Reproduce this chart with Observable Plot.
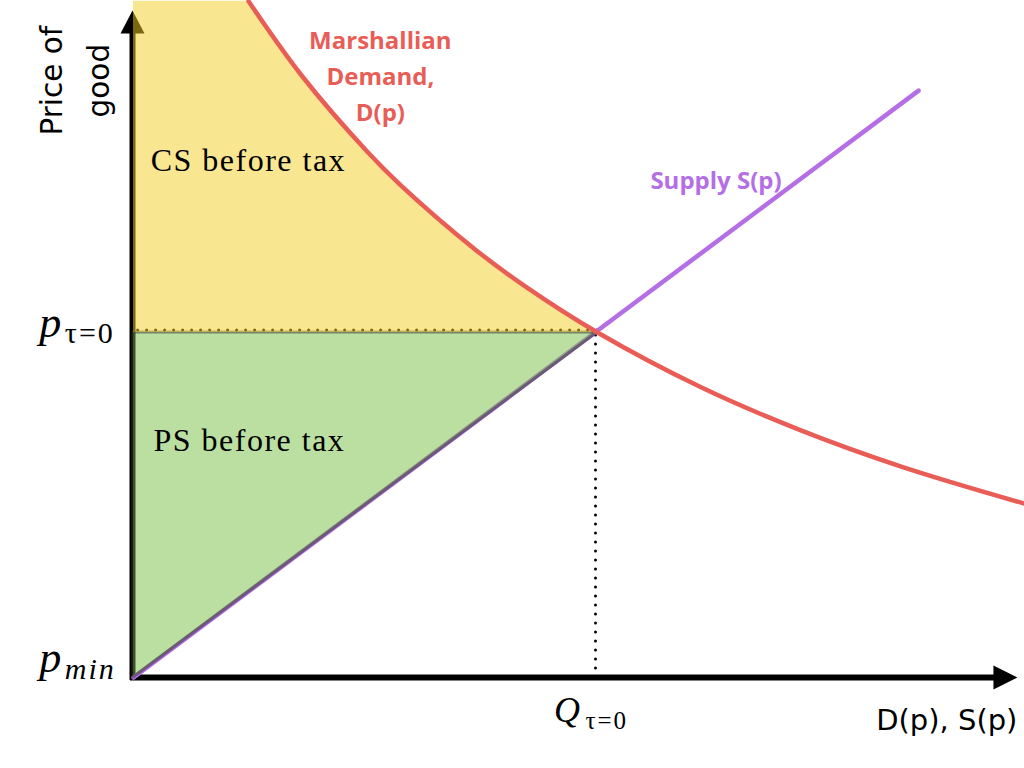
<!DOCTYPE html>
<html>
<head>
<meta charset="utf-8">
<script src="https://cdn.jsdelivr.net/npm/d3@7"></script>
<script src="https://cdn.jsdelivr.net/npm/@observablehq/plot@0.6"></script>
<style>
  html, body { margin: 0; padding: 0; background: #fff; }
  #chart svg { display: block; }
</style>
</head>
<body>
<div id="chart"></div>
<script>
// ---- data ----
const demandQ = [2.48, 3.64, 5.04, 5.75, 7.37, 8.45, 10, 12.22, 14.37, 16.53, 19.2];
const demandP = [19.60, 17.42, 15.24, 14.28, 12.40, 11.33, 10, 8.42, 7.17, 6.12, 5.04];
const supplyQ = [0, 16.92];
const supplyP = [0, 17.01];
const eqQ = 10;        // Q_{tau=0}
const eqP = 10;        // p_{tau=0}
const pMin = 0;        // p_min
const axisXMax = 19.05;
const axisYMax = 19.33;

const demand = demandQ.map((q, i) => ({q, p: demandP[i]}));
const supply = supplyQ.map((q, i) => ({q, p: supplyP[i]}));
const csRegion = demand.filter(d => d.p >= eqP);
const psRegion = [{p: pMin, q: 0}, {p: eqP, q: eqQ}];

// labels
const yTitle = [{x: -1.36, y: 17.30, text: "Price of\ngood"}];
const demandLabel = [{x: 5.32, y: 17.50, text: "Marshallian\nDemand,\nD(p)"}];
const supplyLabel = [{x: 11.14, y: 14.38, text: "Supply S(p)"}];
const areaLabels = [{x: 0.37, y: 14.99, text: "CS before tax"}, {x: 0.43, y: 6.87, text: "PS before tax"}];
const xTitle = [{x: 19.05, y: -1.246, text: "D(p), S(p)"}];
const mathP = [
  {x: -2.03, y: 9.86, text: "p"},
  {x: -2.03, y: 0.15, text: "p"}
];
const mathPSub = [
  {x: -1.48, y: 9.70, text: "τ=0"},
  {x: -1.48, y: -0.03, text: "min"}
];
const mathQ = [{x: 9.06, y: -1.30, text: "Q"}];
const mathQSub = [{x: 9.74, y: -1.48, text: "τ=0"}];

const red = "#e95d57";
const purple = "#b46ee6";

const upArrow = {draw(c) { c.moveTo(0, 0); c.lineTo(12, 23); c.lineTo(-12, 23); c.closePath(); }};
const rightArrow = {draw(c) { c.moveTo(0, 0); c.lineTo(-24, -12); c.lineTo(-24, 12); c.closePath(); }};

const chart = Plot.plot({
  width: 1024,
  height: 768,
  margin: 0,
  x: {type: "linear", domain: [0, 10], range: [133, 597], axis: null},
  y: {type: "linear", domain: [0, 10], range: [677, 332], axis: null},
  style: {background: "white", overflow: "visible"},
  marks: [
    // axes
    Plot.ruleX([0], {y1: pMin, y2: axisYMax - 0.5, stroke: "black", strokeWidth: 6, strokeLinecap: "square", dx: -1}),
    Plot.ruleY([pMin], {x1: 0, x2: axisXMax - 0.5, stroke: "black", strokeWidth: 6, strokeLinecap: "square"}),
    Plot.dot([{x: 0, y: axisYMax}], {x: "x", y: "y", symbol: upArrow, fill: "black", stroke: null, r: 10, dx: -1}),
    Plot.dot([{x: axisXMax, y: pMin}], {x: "x", y: "y", symbol: rightArrow, fill: "black", stroke: null, r: 10}),
    // dotted guides
    Plot.ruleY([eqP], {x1: 0.1, x2: eqQ, stroke: "black", strokeWidth: 3, strokeDasharray: "0,9", strokeLinecap: "round", dy: -2.5}),
    Plot.ruleX([eqQ], {y1: pMin, y2: eqP, stroke: "black", strokeWidth: 3, strokeDasharray: "0,9", strokeLinecap: "round", dx: -2}),
    // supply
    Plot.line(supply, {x: "q", y: "p", stroke: purple, strokeWidth: 4.5}),
    // producer surplus
    Plot.areaX(psRegion, {y: "p", x1: 0, x2: "q", fill: "#77bf41", fillOpacity: 0.5, stroke: "#3a3a3a", strokeOpacity: 0.55, strokeWidth: 3}),
    // consumer surplus
    Plot.areaX(csRegion, {y: "p", x1: 0, x2: "q", fill: "#f2cd22", fillOpacity: 0.5, curve: "catmull-rom"}),
    // demand
    Plot.line(demand, {x: "q", y: "p", stroke: red, strokeWidth: 4.5, curve: "catmull-rom"}),
    // texts
    Plot.text(yTitle, {x: "x", y: "y", text: "text", rotate: -90, fontSize: 29.5, fontFamily: "DejaVu Sans", lineHeight: 1.6, fill: "black"}),
    Plot.text(demandLabel, {x: "x", y: "y", text: "text", fontSize: 24, fontWeight: "bold", fontFamily: "Open Sans", lineHeight: 1.5, fill: red}),
    Plot.text(supplyLabel, {x: "x", y: "y", text: "text", textAnchor: "start", fontSize: 24, fontWeight: "bold", fontFamily: "Open Sans", fill: purple}),
    Plot.text(areaLabels, {x: "x", y: "y", text: "text", textAnchor: "start", fontSize: 32, fontFamily: "Liberation Serif", fill: "black"}),
    Plot.text(xTitle, {x: "x", y: "y", text: "text", textAnchor: "end", fontSize: 29, fontFamily: "DejaVu Sans", fill: "black"}),
    Plot.text(mathP, {x: "x", y: "y", text: "text", textAnchor: "start", lineAnchor: "bottom", fontSize: 44, fontStyle: "italic", fontFamily: "Liberation Serif", fill: "black"}),
    Plot.text(mathPSub, {x: "x", y: "y", text: "text", textAnchor: "start", lineAnchor: "bottom", fontSize: 30, fontStyle: "italic", fontFamily: "Liberation Serif", fill: "black"}),
    Plot.text(mathQ, {x: "x", y: "y", text: "text", textAnchor: "start", lineAnchor: "bottom", fontSize: 36, fontStyle: "italic", fontFamily: "Liberation Serif", fill: "black"}),
    Plot.text(mathQSub, {x: "x", y: "y", text: "text", textAnchor: "start", lineAnchor: "bottom", fontSize: 25, fontFamily: "Liberation Serif", fill: "black"})
  ]
});

d3.select(chart).selectAll("text").each(function() {
  const t = this.textContent;
  if (t === "CS before tax" || t === "PS before tax") this.setAttribute("letter-spacing", "1.5");
  if (t === "τ=0" || t === "min") this.setAttribute("letter-spacing", "2");
  if (t === "τ=0") this.setAttribute("font-style", "normal");
});

document.getElementById("chart").appendChild(chart);
</script>
</body>
</html>
